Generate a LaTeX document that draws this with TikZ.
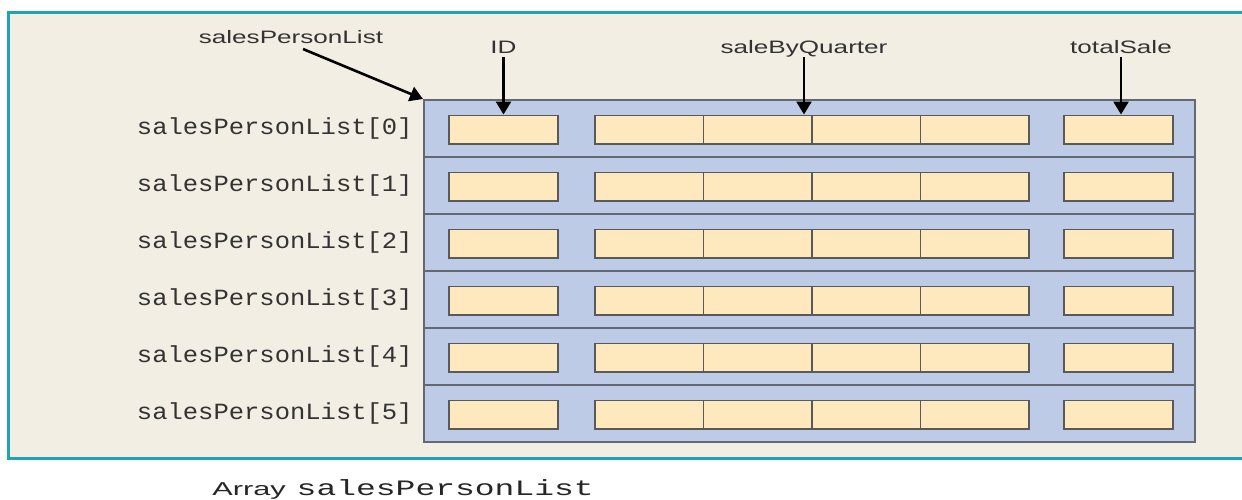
\documentclass[tikz,border=0pt]{standalone}
\usepackage{fontspec}
\usetikzlibrary{arrows.meta, shadows}
\newfontfamily\labelsans[FakeStretch=1.45]{Liberation Sans}
\newfontfamily\rowmono[FakeStretch=1.1]{Liberation Mono}
\newfontfamily\captionsans[FakeStretch=1.65]{Liberation Sans}
\newfontfamily\captionmono[FakeStretch=1.5]{Liberation Mono}
\definecolor{paper}{RGB}{243, 238, 227}
\definecolor{frameteal}{RGB}{32, 163, 180}
\definecolor{slotblue}{RGB}{190, 203, 230}
\definecolor{fieldtan}{RGB}{254, 232, 190}
\definecolor{edgegray}{RGB}{100, 104, 115}

\begin{document}
\begin{tikzpicture}[
	x=0.5pt, y=-0.5pt,
	>={Triangle[length=6.5pt, width=7.5pt]},
	% Styles for the frame and the array block
	framebox/.style={draw=frameteal, line width=1.5pt, fill=paper},
	arraybox/.style={draw=edgegray, line width=1pt, fill=slotblue, inner sep=0pt,
		minimum width=385.5pt, minimum height=171pt,
		drop shadow={shadow xshift=0.7pt, shadow yshift=-0.7pt, fill=black, opacity=0.6}},
	rowline/.style={draw=edgegray, line width=1pt},
	fieldbox/.style={draw=black!65, line width=0.75pt, fill=fieldtan, minimum height=14.25pt, inner sep=0pt},
	idfield/.style={fieldbox, minimum width=54.5pt},
	qfield/.style={fieldbox, minimum width=54.25pt},
	% Styles for text and pointers
	toplabel/.style={font={\fontsize{9}{10}\labelsans}, text=black!80, anchor=base, inner sep=0pt},
	rowlabel/.style={font={\fontsize{11.6}{13}\rowmono}, text=black!80, anchor=east, inner sep=0pt},
	ptr/.style={->, line width=1.3pt, black}
	]
	
	\path[use as bounding box] (0, 0) rectangle (1242, 499);
	\clip (0, 0) rectangle (1242, 499);
	
	% ==========================================
	% FRAME
	% ==========================================
	\draw[framebox] (8, 12) rectangle (1262, 458);
	
	% ==========================================
	% ARRAY OF RECORDS
	% ==========================================
	\node[arraybox] (arr) at (809.5, 271) {};
	\foreach \r in {1,...,5}
		\draw[rowline] (424, {100+57*\r}) -- (1195, {100+57*\r});
	
	\foreach \r in {0,...,5}{
		\node[rowlabel] (row\r) at (413, {128.5+57*\r}) {salesPersonList[\r]};
		% ID field
		\node[idfield] (id\r) at (503.5, {129.5+57*\r}) {};
		% four quarters
		\foreach \q in {1,...,4}
			\node[qfield] (sale\r-\q) at ({595+108.5*(\q-0.5)}, {129.5+57*\r}) {};
		% total field
		\node[idfield] (tot\r) at (1118.5, {129.5+57*\r}) {};
	}
	
	% ==========================================
	% MEMBER NAMES AND POINTERS
	% ==========================================
	\node[toplabel] (lblList) at (291, 43) {salesPersonList};
	\node[toplabel] (lblID) at (503.5, 53) {ID};
	\node[toplabel] (lblQ) at (804, 53) {saleByQuarter};
	\node[toplabel] (lblTot) at (1121, 53) {totalSale};
	
	\draw[ptr] ([xshift=6pt, yshift=-3pt]lblList.base) -- (arr.north west);
	\draw[ptr] ([yshift=-2pt]lblID.base) -- (id0.north);
	\draw[ptr] ([yshift=-2pt]lblQ.base) -- (lblQ.base |- sale0-2.north);
	\draw[ptr] ([yshift=-2pt]lblTot.base) -- (lblTot.base |- tot0.north);
	
	% Caption
	\node[anchor=base west, inner sep=0pt, text=black!85] (caption) at (212, 495)
		{{\fontsize{9.3}{11}\captionsans Array}\hspace{5.5pt}{\fontsize{11}{13}\captionmono salesPersonList}};
	
\end{tikzpicture}
\end{document}
